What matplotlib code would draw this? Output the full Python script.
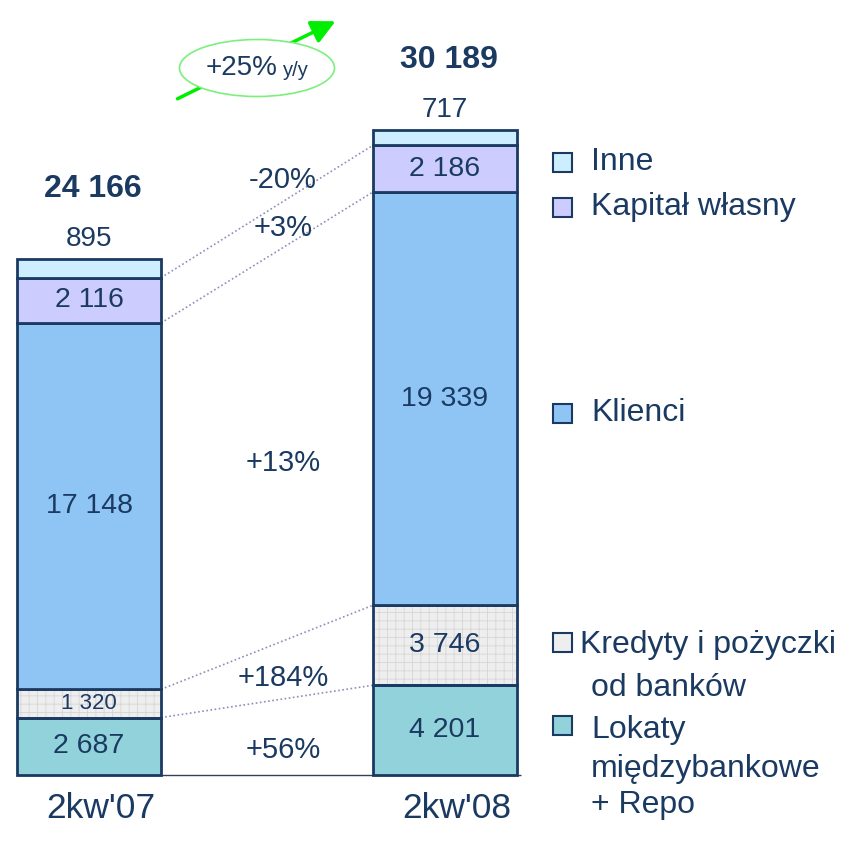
import matplotlib
matplotlib.use("Agg")
import numpy as np
import matplotlib.pyplot as plt
from matplotlib.patches import Ellipse, FancyArrowPatch, Rectangle

plt.rcParams['font.family'] = ['Liberation Sans', 'DejaVu Sans']
plt.rcParams['hatch.linewidth'] = 0.6

# data (bottom -> top)
periods = ["2kw'07", "2kw'08"]
segments = ["Lokaty", "Kredyty", "Klienci", "Kapitał własny", "Inne"]
vals_07 = [2687, 1320, 17148, 2116, 895]
vals_08 = [4201, 3746, 19339, 2186, 717]
totals = [24166, 30189]
labels_07 = ["2 687", "1 320", "17 148", "2 116", "895"]
labels_08 = ["4 201", "3 746", "19 339", "2 186", "717"]
total_labels = ["24 166", "30 189"]
changes = ["+56%", "+184%", "+13%", "+3%", "-20%"]
change_y = [1170, 4540, 14600, 25600, 27850]

colors = ["#92D3DB", "#EEEEEE", "#8FC5F5", "#CCCCFF", "#CCEEFF"]
navy = "#1B3A62"

fig = plt.figure(figsize=(8.63, 8.41), dpi=100)
ax = fig.add_axes([0, 0, 1, 1])
ax.set_xlim(-0.25, 2.174)
ax.set_ylim(-3089, 36270)
ax.axis('off')

xs = np.array([0, 1])
w = 0.4045

vals = np.array([vals_07, vals_08])
bottoms = np.zeros(2)
tops = []
for i, seg in enumerate(segments):
    h = vals[:, i]
    if seg == "Kredyty":
        ax.bar(xs, h, w, bottom=bottoms, color=colors[i], edgecolor="#D6D6D6",
               linewidth=0, hatch="++", zorder=2)
        ax.bar(xs, h, w, bottom=bottoms, fill=False, edgecolor=navy,
               linewidth=2, zorder=3)
    else:
        ax.bar(xs, h, w, bottom=bottoms, color=colors[i], edgecolor=navy,
               linewidth=2, zorder=3)
    bottoms = bottoms + h
    tops.append(bottoms.copy())

# value labels
lab = [labels_07, labels_08]
for j in range(2):
    base = 0
    for i in range(len(segments)):
        v = vals[j, i]
        if i == 4:
            ax.annotate(lab[j][i], (xs[j], base + v), xytext=(0, 20),
                        textcoords='offset pixels', ha='center', va='center',
                        fontsize=20, color=navy)
        else:
            fs = 16 if v < 2000 else 20.5
            ax.text(xs[j], base + v / 2, lab[j][i], ha='center', va='center',
                    fontsize=fs, color=navy, zorder=4)
        base += v
    ax.annotate(total_labels[j], (xs[j], totals[j]), xytext=(4, 70),
                textcoords='offset pixels', ha='center', va='center',
                fontsize=23, fontweight='bold', color=navy)

# connecting dotted lines
for i in range(4):
    ax.plot([xs[0] + w / 2, xs[1] - w / 2], [tops[i][0], tops[i][1]],
            linestyle=(0, (1, 1.5)), color="#8E8EBE", linewidth=1.2, zorder=1)
ax.hlines(0, xs[0] - w / 2, xs[1] + w / 2 + 0.01, color="#33415C", linewidth=1, zorder=1)

# change labels
for c, y in zip(changes, change_y):
    ax.text(0.545, y, c, ha='center', va='center', fontsize=21, color=navy)

# category labels
for x, p in zip(xs, periods):
    ax.text(x + 0.034, -1580, p, ha='center', va='center', fontsize=25.5, color=navy)


def fx(px):
    return px / 863


def fy(py):
    return 1 - py / 841


# growth arrow and ellipse
arrow = FancyArrowPatch((fx(175), fy(100)), (fx(338), fy(20)), transform=fig.transFigure,
                        arrowstyle='-|>', mutation_scale=36, color="#00EE00", linewidth=2.5)
fig.add_artist(arrow)
ell = Ellipse((fx(257), fy(68)), 155 / 863, 57 / 841, transform=fig.transFigure,
              facecolor='white', edgecolor="#7CF07C", linewidth=1.2)
fig.add_artist(ell)
fig.text(fx(206), fy(68), "+25%", ha='left', va='center', fontsize=20, color=navy)
fig.text(fx(283), fy(70), "y/y", ha='left', va='center', fontsize=14.5, color=navy)

# legend
fs_leg = 23
legend_items = [
    (colors[4], 162, "Inne"),
    (colors[3], 207, "Kapitał własny"),
    (colors[2], 413, "Klienci"),
]
for col, y, txt in legend_items:
    fig.add_artist(Rectangle((fx(553), fy(y + 10)), 19 / 863, 19 / 841, transform=fig.transFigure,
                             facecolor=col, edgecolor=navy, linewidth=1.5))
    fig.text(fx(591), fy(y), txt, ha='left', va='center', fontsize=fs_leg, color=navy)

fig.add_artist(Rectangle((fx(553), fy(652)), 19 / 863, 19 / 841, transform=fig.transFigure,
                         facecolor=colors[1], edgecolor=navy, linewidth=1.5))
fig.text(fx(580), fy(645), "Kredyty i pożyczki", ha='left', va='center', fontsize=fs_leg, color=navy)
fig.text(fx(591), fy(688), "od banków", ha='left', va='center', fontsize=fs_leg, color=navy)

fig.add_artist(Rectangle((fx(553), fy(735)), 19 / 863, 19 / 841, transform=fig.transFigure,
                         facecolor=colors[0], edgecolor=navy, linewidth=1.5))
fig.text(fx(591), fy(730), "Lokaty", ha='left', va='center', fontsize=fs_leg, color=navy)
fig.text(fx(591), fy(769), "międzybankowe", ha='left', va='center', fontsize=fs_leg, color=navy)
fig.text(fx(591), fy(805), "+ Repo", ha='left', va='center', fontsize=fs_leg, color=navy)

fig.savefig("out.png", dpi=100)
